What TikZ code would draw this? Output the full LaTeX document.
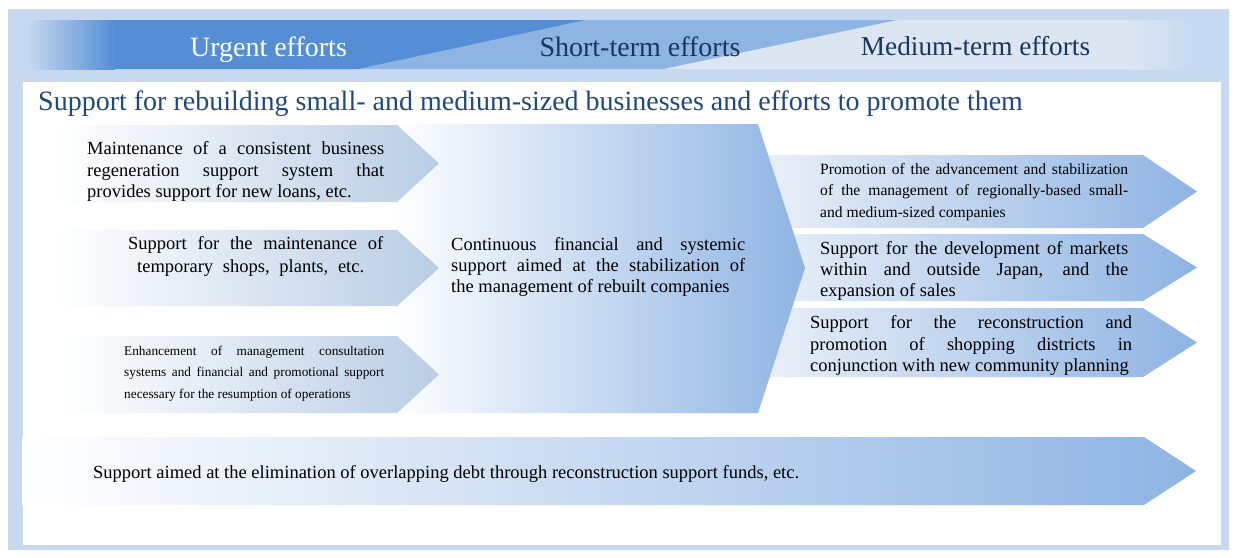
\documentclass[tikz,border=0pt]{standalone}
\usepackage{fontspec}
\setmainfont{Liberation Serif}
\definecolor{panel}{HTML}{C6D9F1}
\definecolor{dkblue}{HTML}{558ED5}
\definecolor{mdblue}{HTML}{8EB4E3}
\definecolor{ltband}{HTML}{DCE6F2}
\definecolor{navy}{HTML}{1F497D}
\definecolor{hnavy}{HTML}{17375E}
\definecolor{steel}{HTML}{B9CDE5}
\definecolor{rleft}{HTML}{E9EFF8}
\begin{document}
\begin{tikzpicture}[x=1pt,y=-1pt,
  txt/.style={inner sep=0pt, anchor=west, align=justify, text=black,
    font=\fontsize{18.5}{21.5}\selectfont},
  head/.style={inner sep=0pt, anchor=base, font=\fontsize{28}{30}\selectfont},
  larrow/.style={left color=white, right color=steel},
  carrow/.style={left color=white, right color=mdblue},
  rarrow/.style={left color=rleft, right color=mdblue}]
\useasboundingbox (0,0) rectangle (1237,557);
% outer panel
\fill[panel] (8,9) rectangle (1229,550);
% header band
\fill[ltband] (600,20) rectangle (1130,69);
\shade[left color=ltband, right color=panel] (1130,20) rectangle (1195,69);
\fill[mdblue] (300,20) -- (897,20) -- (663,69) -- (300,69) -- cycle;
\fill[dkblue] (114,20) -- (585,20) -- (358,69) -- (114,69) -- cycle;
\shade[left color=panel, right color=dkblue] (28,20) rectangle (115,69);
\node[head, text=white] (urgent) at (268.5,56) {Urgent efforts};
\node[head, text=hnavy] (short) at (640,56) {Short-term efforts};
\node[head, text=hnavy, font=\fontsize{27.3}{30}\selectfont] (medium) at (975.5,55) {Medium-term efforts};
% white box
\fill[white] (23,82) rectangle (1221,545);
\node[inner sep=0pt, anchor=base west, text=navy, font=\fontsize{28}{30}\selectfont] (title) at (38,110)
  {Support for rebuilding small- and medium-sized businesses and efforts to promote them};
% right arrows
\shade[rarrow] (767,155) -- (1143,155) -- (1197,191.5) -- (1143,228) -- (767,228) -- cycle;
\shade[rarrow] (767,234) -- (1143,234) -- (1197,267.5) -- (1143,301) -- (767,301) -- cycle;
\shade[rarrow] (767,308) -- (1143,308) -- (1197,342.5) -- (1143,377) -- (767,377) -- cycle;
% centre arrow
\shade[carrow] (390,124) -- (758,124) -- (805,268) -- (758,413) -- (390,413) -- cycle;
% left arrows
\shade[larrow] (55,125) -- (397,125) -- (439,163.5) -- (397,202) -- (55,202) -- cycle;
\shade[larrow] (55,230) -- (397,230) -- (439,268) -- (397,306) -- (55,306) -- cycle;
\shade[larrow] (62,336) -- (397,336) -- (439,374.5) -- (397,413) -- (62,413) -- cycle;
% bottom arrow
\shade[carrow] (22,437) -- (1144,437) -- (1196,471) -- (1144,505) -- (22,505) -- cycle;
% texts
\node[txt, text width=297pt] (l1) at (87,171.5)
  {Maintenance of a consistent business\linebreak regeneration support system that\linebreak provides support for new loans, etc.};
\node[inner sep=0pt, anchor=west, align=left, text=black, font=\fontsize{18.5}{23}\selectfont] (l2) at (128,256)
  {\hbox to 255pt{Support\hfil for\hfil the\hfil maintenance\hfil of}\\
   \hbox to 255pt{\hskip9pt temporary\hfil shops,\hfil plants,\hfil etc.\hskip19pt}};
\node[txt, text width=260pt, font=\fontsize{13.3}{21.5}\selectfont] (l3) at (124,373.5)
  {Enhancement of management consultation\linebreak systems and financial and promotional support\linebreak necessary for the resumption of operations};
\node[txt, text width=294pt, font=\fontsize{18.5}{21}\selectfont] (c1) at (451,267)
  {Continuous financial and systemic\linebreak support aimed at the stabilization of\linebreak the management of rebuilt companies};
\node[txt, text width=308pt, font=\fontsize{15.6}{21.5}\selectfont] (r1) at (820,192)
  {Promotion of the advancement and stabilization\linebreak of the management of regionally-based small-\linebreak and medium-sized companies};
\node[txt, text width=308pt, font=\fontsize{18.5}{21}\selectfont] (r2) at (820,271)
  {Support for the development of markets\linebreak within and outside Japan, and the\linebreak expansion of sales};
\node[txt, text width=322pt, font=\fontsize{18.5}{21.5}\selectfont] (r3) at (810,345.5)
  {Support for the reconstruction and\linebreak promotion of shopping districts in\linebreak conjunction with new community planning};
\node[txt, align=left] (b1) at (93,474)
  {Support aimed at the elimination of overlapping debt through reconstruction support funds, etc.};
\end{tikzpicture}
\end{document}
